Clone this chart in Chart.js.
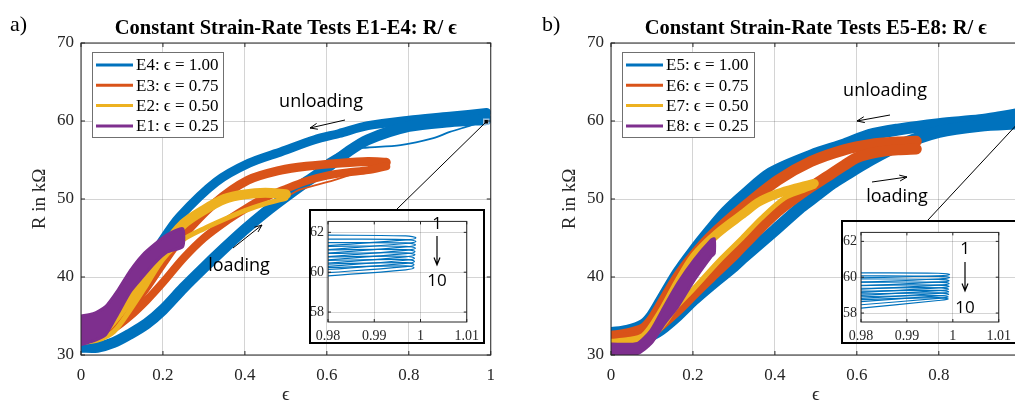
<!DOCTYPE html>
<html>
<head>
<meta charset="utf-8">
<title>Constant strain-rate tests</title>
<script src="https://cdn.jsdelivr.net/npm/chart.js@4.4.1/dist/chart.umd.min.js"></script>
<style>
  html, body { margin: 0; padding: 0; background: #fff; }
  body { position: relative; width: 1015px; height: 405px; overflow: hidden; }
  canvas { position: absolute; }
</style>
</head>
<body>
<canvas id="chartA" width="505" height="405" style="left:0;top:0"></canvas>
<canvas id="chartB" width="530" height="405" style="left:505px;top:0"></canvas>
<canvas id="zoomA" width="176" height="135" style="left:309px;top:209px"></canvas>
<canvas id="zoomB" width="176" height="124" style="left:841px;top:220px"></canvas>
<script>
// axis ticks
const strainTicks = [0, 0.2, 0.4, 0.6, 0.8, 1];
const strainLabels = ['0', '0.2', '0.4', '0.6', '0.8', '1'];
const resTicks = [30, 40, 50, 60, 70];
const zoomStrainTicks = [0.98, 0.99, 1, 1.01];
const zoomStrainLabels = ['0.98', '0.99', '1', '1.01'];
const zoomResTicks = [58, 60, 62];

// legend entries
const namesA = ['E4: ϵ = 1.00', 'E3: ϵ = 0.75', 'E2: ϵ = 0.50', 'E1: ϵ = 0.25'];
const namesB = ['E5: ϵ = 1.00', 'E6: ϵ = 0.75', 'E7: ϵ = 0.50', 'E8: ϵ = 0.25'];
const colors = ['#0072BD', '#D95319', '#EDB120', '#7E2F8E'];

// ---- tests E1-E4 (strain, resistance in kOhm) ----
const e4LoadEps = [0, 0.04, 0.08, 0.12, 0.16, 0.2, 0.25, 0.3, 0.35, 0.4, 0.45, 0.5, 0.55, 0.6, 0.65, 0.7, 0.8, 0.9, 0.99];
const e4LoadR = [31.0, 31.0, 31.6, 32.7, 34.0, 35.8, 38.6, 41.2, 43.7, 46.1, 48.3, 50.3, 52.2, 54.0, 56.0, 57.6, 59.3, 59.9, 60.2];
const e4UnloadEps = [0.99, 0.9, 0.8, 0.7, 0.63, 0.57, 0.49, 0.41, 0.33, 0.24, 0.2, 0.15, 0.1, 0.05, 0];
const e4UnloadR = [61.1, 60.6, 60.1, 59.4, 58.4, 57.6, 56.1, 54.6, 52.2, 47.7, 44.8, 40.5, 36.5, 33.3, 32.0];
const e4FirstEps = [0.6, 0.65, 0.7, 0.78, 0.86, 0.9, 0.95, 0.99];
const e4FirstR = [55.0, 56.4, 56.6, 56.9, 57.8, 58.6, 59.4, 60.1];

const e3LoadEps = [0, 0.04, 0.08, 0.12, 0.16, 0.2, 0.25, 0.3, 0.35, 0.4, 0.45, 0.5, 0.55, 0.6, 0.65, 0.7, 0.745];
const e3LoadR = [32.3, 32.6, 33.4, 35.0, 37.0, 39.3, 42.4, 45.0, 47.0, 48.7, 50.2, 51.3, 52.3, 53.0, 53.4, 53.7, 54.2];
const e3UnloadEps = [0.745, 0.7, 0.634, 0.55, 0.488, 0.407, 0.325, 0.244, 0.2, 0.15, 0.1, 0.05, 0];
const e3UnloadR = [54.7, 54.8, 54.6, 54.2, 53.7, 52.4, 49.4, 45.0, 41.8, 38.0, 35.0, 33.2, 32.8];
const e3FirstEps = [0.5, 0.534, 0.616, 0.689, 0.73];
const e3FirstR = [50.2, 51.2, 52.4, 53.7, 54.5];

const e2LoadEps = [0, 0.04, 0.08, 0.12, 0.16, 0.2, 0.25, 0.3, 0.35, 0.4, 0.45, 0.5];
const e2LoadR = [31.6, 31.9, 33.0, 35.8, 39.0, 42.3, 44.8, 46.2, 47.4, 48.5, 49.4, 50.1];
const e2UnloadEps = [0.5, 0.45, 0.4, 0.35, 0.3, 0.25, 0.2, 0.16, 0.12, 0.08, 0.04, 0];
const e2UnloadR = [50.6, 50.8, 50.6, 50.0, 48.6, 46.8, 43.6, 40.3, 37.3, 34.6, 32.6, 32.2];

const e1Eps = [0, 0.03, 0.06, 0.09, 0.12, 0.15, 0.18, 0.21, 0.248];
const e1UpperR = [35.0, 35.3, 36.2, 38.3, 40.8, 42.8, 44.2, 45.4, 46.2];
const e1LowerR = [31.3, 31.8, 32.6, 35.3, 38.1, 40.0, 41.8, 43.2, 43.9];

// ---- tests E5-E8 ----
const e5LoadEps = [0, 0.04, 0.08, 0.1, 0.12, 0.163, 0.2, 0.244, 0.3, 0.325, 0.4, 0.46, 0.49, 0.54, 0.57, 0.63, 0.7, 0.8, 0.9, 0.995];
const e5LoadR = [31.9, 32.0, 32.2, 32.6, 33.2, 35.1, 37.0, 39.0, 41.4, 42.6, 46.0, 48.8, 50.0, 52.0, 53.0, 54.9, 56.8, 58.6, 59.4, 59.7];
const e5UnloadEps = [0.995, 0.95, 0.9, 0.8, 0.7, 0.63, 0.57, 0.49, 0.39, 0.325, 0.28, 0.244, 0.2, 0.163, 0.122, 0.1, 0.08, 0.04, 0];
const e5UnloadR = [60.9, 60.5, 60.1, 59.6, 58.9, 58.2, 57.0, 55.6, 53.3, 50.5, 48.3, 46.1, 43.2, 40.5, 36.9, 35.0, 33.9, 33.1, 32.8];

const e6LoadEps = [0, 0.04, 0.08, 0.1, 0.12, 0.163, 0.203, 0.244, 0.3, 0.325, 0.407, 0.47, 0.528, 0.569, 0.6, 0.65, 0.7, 0.745];
const e6LoadR = [32.0, 32.2, 32.6, 33.0, 33.8, 35.8, 37.9, 40.0, 42.8, 44.2, 48.4, 50.9, 52.9, 54.3, 55.3, 56.0, 56.3, 56.4];
const e6UnloadEps = [0.745, 0.7, 0.634, 0.569, 0.488, 0.407, 0.325, 0.244, 0.2, 0.163, 0.12, 0.1, 0.08, 0.04, 0];
const e6UnloadR = [57.4, 57.3, 57.0, 56.3, 54.8, 52.4, 49.0, 45.2, 42.6, 40.0, 36.2, 34.5, 33.4, 32.7, 32.4];

const e7LoadEps = [0, 0.06, 0.1, 0.13, 0.154, 0.2, 0.268, 0.32, 0.366, 0.423, 0.47, 0.496];
const e7LoadR = [31.3, 31.5, 32.3, 34.0, 35.8, 38.4, 42.3, 45.0, 47.5, 50.1, 51.1, 51.6];
const e7UnloadEps = [0.496, 0.45, 0.407, 0.36, 0.325, 0.26, 0.203, 0.163, 0.122, 0.081, 0.04, 0];
const e7UnloadR = [52.0, 51.4, 50.7, 49.6, 48.2, 45.6, 42.6, 39.2, 35.3, 32.3, 31.7, 31.5];

const e8Eps = [0, 0.065, 0.098, 0.13, 0.163, 0.203, 0.244, 0.252];
const e8UpperR = [31.4, 31.5, 33.2, 36.2, 39.2, 42.2, 44.7, 44.9];
const e8LowerR = [30.2, 30.2, 31.5, 34.0, 36.2, 39.6, 42.6, 43.0];

// zoomed end of the E4 / E5 cycles 1..10
const zoomEdgeEps = [0.978, 0.9968];
const zoomA = {
  loadStart: [61.30, 61.10, 60.92, 60.75, 60.58, 60.42, 60.26, 60.10, 59.94, 59.78],
  loadEnd: [61.62, 61.44, 61.27, 61.10, 60.93, 60.77, 60.60, 60.44, 60.28, 60.12],
  tipEps: [0.9990, 0.9990, 0.9989, 0.9989, 0.9988, 0.9988, 0.9987, 0.9987, 0.9986, 0.9986],
  tipR: [61.72, 61.54, 61.37, 61.20, 61.03, 60.87, 60.70, 60.54, 60.38, 60.22],
  unloadStart: [61.82, 61.64, 61.47, 61.30, 61.13, 60.97, 60.80, 60.64, 60.48, 60.32],
  unloadEnd: [61.86, 61.66, 61.48, 61.30, 61.12, 60.94, 60.76, 60.58, 60.40, 60.22]
};
const zoomB = {
  loadStart: [59.95, 59.70, 59.50, 59.30, 59.12, 58.95, 58.78, 58.60, 58.42, 58.22],
  loadEnd: [60.08, 59.90, 59.72, 59.56, 59.40, 59.25, 59.10, 58.96, 58.82, 58.70],
  tipEps: [0.9993, 0.9993, 0.9992, 0.9992, 0.9992, 0.9991, 0.9991, 0.9991, 0.9990, 0.9990],
  tipR: [60.15, 59.98, 59.80, 59.64, 59.48, 59.33, 59.18, 59.04, 58.90, 58.78],
  unloadStart: [60.22, 60.05, 59.88, 59.72, 59.56, 59.41, 59.26, 59.12, 58.98, 58.86],
  unloadEnd: [60.24, 60.08, 59.90, 59.72, 59.55, 59.38, 59.22, 59.06, 58.90, 58.74]
};

// zoom markers on the main axes
const markerA = [0.989, 59.9];
const markerB = [0.995, 59.8];

const serif = "'Liberation Serif', 'Times New Roman', serif";
const sans = "'Open Sans', 'Liberation Sans', sans-serif";
const gridColor = 'rgba(38,38,38,0.2)';
const inkColor = '#262626';

Chart.defaults.font.family = serif;

const pts = (xs, ys) => xs.map((x, i) => ({ x, y: ys[i] }));

function band(eps, r, color, width, order) {
  return {
    data: pts(eps, r), borderColor: color, borderWidth: width, order,
    fill: false, pointRadius: 0, tension: 0.3,
    borderCapStyle: 'round', borderJoinStyle: 'round'
  };
}

// closed outline: out along the upper edge, back along the lower edge
function patch(eps, upper, lower, color, order) {
  const outline = pts(eps, upper).concat(pts(eps, lower).reverse());
  return {
    data: outline, borderColor: color, backgroundColor: color, borderWidth: 3, order,
    fill: 'shape', pointRadius: 0, tension: 0.2, borderJoinStyle: 'round'
  };
}

function marker(p) {
  return {
    data: [{ x: p[0], y: p[1] }], showLine: false, order: 0,
    pointStyle: 'rect', pointRadius: 3.5, pointBackgroundColor: '#000',
    pointBorderColor: 'rgba(170,205,235,0.9)', pointBorderWidth: 1.5
  };
}

function arrow(ctx, from, to, head) {
  const ang = Math.atan2(to[1] - from[1], to[0] - from[0]);
  ctx.beginPath();
  ctx.moveTo(from[0], from[1]);
  ctx.lineTo(to[0], to[1]);
  ctx.moveTo(to[0] - head * Math.cos(ang - 0.38), to[1] - head * Math.sin(ang - 0.38));
  ctx.lineTo(to[0], to[1]);
  ctx.lineTo(to[0] - head * Math.cos(ang + 0.38), to[1] - head * Math.sin(ang + 0.38));
  ctx.stroke();
}

function mainDecor(o) {
  return {
    id: 'mainDecor',
    afterDraw(chart) {
      const { ctx, chartArea: a, scales: { x, y } } = chart;
      ctx.save();
      // axes box with inward tick marks
      ctx.strokeStyle = inkColor;
      ctx.lineWidth = 1;
      ctx.strokeRect(a.left, a.top, a.right - a.left, a.bottom - a.top);
      ctx.beginPath();
      strainTicks.forEach(v => {
        const px = x.getPixelForValue(v);
        ctx.moveTo(px, a.bottom); ctx.lineTo(px, a.bottom - 4);
        ctx.moveTo(px, a.top); ctx.lineTo(px, a.top + 4);
      });
      resTicks.forEach(v => {
        const py = y.getPixelForValue(v);
        ctx.moveTo(a.left, py); ctx.lineTo(a.left + 4, py);
        ctx.moveTo(a.right, py); ctx.lineTo(a.right - 4, py);
      });
      ctx.stroke();

      // title and panel letter
      ctx.fillStyle = '#000';
      ctx.textAlign = 'center';
      ctx.textBaseline = 'alphabetic';
      ctx.font = 'bold 20.5px ' + serif;
      ctx.fillText(o.title, (a.left + a.right) / 2, 34);
      ctx.textAlign = 'left';
      ctx.font = '22px ' + serif;
      ctx.fillText(o.panel, o.panelX, 31);

      // line from the zoom marker to the inset
      ctx.strokeStyle = '#000';
      ctx.beginPath();
      ctx.moveTo(x.getPixelForValue(o.marker[0]), y.getPixelForValue(o.marker[1]));
      ctx.lineTo(o.insetAt[0], o.insetAt[1]);
      ctx.stroke();

      // loading / unloading notes
      ctx.font = '18px ' + sans;
      ctx.textAlign = 'center';
      ctx.textBaseline = 'middle';
      o.notes.forEach(n => {
        ctx.fillText(n.text, n.at[0], n.at[1]);
        arrow(ctx, n.from, n.to, 8);
      });

      // legend
      const lg = o.legend;
      ctx.fillStyle = '#fff';
      ctx.fillRect(lg.x, lg.y, lg.w, lg.h);
      ctx.strokeStyle = '#707070';
      ctx.strokeRect(lg.x + 0.5, lg.y + 0.5, lg.w, lg.h);
      ctx.font = '17px ' + serif;
      ctx.textAlign = 'left';
      o.names.forEach((name, i) => {
        const ly = lg.y + 13 + i * 20.3;
        ctx.strokeStyle = colors[i];
        ctx.lineWidth = 3;
        ctx.beginPath();
        ctx.moveTo(lg.x + 4, ly);
        ctx.lineTo(lg.x + 41, ly);
        ctx.stroke();
        ctx.fillStyle = '#000';
        ctx.fillText(name, lg.x + 44, ly + 1);
      });
      ctx.restore();
    }
  };
}

function mainChart(id, datasets, padLeft, decor) {
  return new Chart(document.getElementById(id), {
    type: 'line',
    data: { datasets },
    options: {
      responsive: false, animation: false, events: [], devicePixelRatio: 1,
      layout: { padding: { top: 43, right: 14, bottom: 0, left: padLeft } },
      plugins: { legend: { display: false }, tooltip: { enabled: false }, title: { display: false } },
      scales: {
        x: {
          type: 'linear', min: 0, max: 1,
          afterBuildTicks: s => { s.ticks = strainTicks.map(v => ({ value: v })); },
          afterFit: s => { s.height = 50; },
          ticks: { callback: (v, i) => strainLabels[i], font: { size: 17 }, color: inkColor, padding: 10, maxRotation: 0, autoSkip: false },
          grid: { color: gridColor, drawTicks: false },
          border: { display: false },
          title: { display: true, text: 'ϵ', color: inkColor, font: { size: 19, lineHeight: 1 }, padding: { top: 0, bottom: 0 } }
        },
        y: {
          min: 30, max: 70,
          afterBuildTicks: s => { s.ticks = resTicks.map(v => ({ value: v })); },
          afterFit: s => { s.width = 81; },
          ticks: { font: { size: 17 }, color: inkColor, padding: 7 },
          grid: { color: gridColor, drawTicks: false },
          border: { display: false },
          title: { display: true, text: 'R in kΩ', color: inkColor, font: { size: 19, lineHeight: 1.2 }, padding: { top: 29, bottom: 0 } }
        }
      }
    },
    plugins: [decor]
  });
}

function zoomDecor(o) {
  return {
    id: 'zoomDecor',
    beforeDraw(chart) {
      const { ctx, chartArea: a } = chart;
      ctx.save();
      ctx.fillStyle = '#fff';
      ctx.fillRect(a.left, a.top, a.right - a.left, a.bottom - a.top);
      ctx.restore();
    },
    afterDraw(chart) {
      const { ctx, chartArea: a, scales: { x, y } } = chart;
      ctx.save();
      ctx.strokeStyle = inkColor;
      ctx.lineWidth = 1;
      ctx.strokeRect(a.left, a.top, a.right - a.left, a.bottom - a.top);
      ctx.beginPath();
      zoomStrainTicks.forEach(v => {
        const px = x.getPixelForValue(v);
        ctx.moveTo(px, a.bottom); ctx.lineTo(px, a.bottom - 3);
        ctx.moveTo(px, a.top); ctx.lineTo(px, a.top + 3);
      });
      zoomResTicks.forEach(v => {
        const py = y.getPixelForValue(v);
        ctx.moveTo(a.left, py); ctx.lineTo(a.left + 3, py);
        ctx.moveTo(a.right, py); ctx.lineTo(a.right - 3, py);
      });
      ctx.stroke();
      // outer frame
      ctx.strokeStyle = '#000';
      ctx.lineWidth = 2;
      ctx.strokeRect(1, 1, chart.width - 2, chart.height - 2);
      // cycle counter 1 -> 10
      ctx.lineWidth = 1.2;
      ctx.fillStyle = '#000';
      ctx.font = '17px ' + sans;
      ctx.textAlign = 'center';
      ctx.textBaseline = 'middle';
      ctx.fillText('1', o.cx, o.firstY);
      arrow(ctx, [o.cx, o.arrowFrom], [o.cx, o.arrowTo], 8);
      ctx.fillText('10', o.cx, o.lastY);
      ctx.restore();
    }
  };
}

function zoomChart(id, z, yMax, pad, decor) {
  const datasets = z.tipR.map((_, i) => ({
    data: pts(
      [zoomEdgeEps[0], zoomEdgeEps[1], z.tipEps[i], zoomEdgeEps[1], zoomEdgeEps[0]],
      [z.loadStart[i], z.loadEnd[i], z.tipR[i], z.unloadStart[i], z.unloadEnd[i]]
    ),
    borderColor: colors[0], borderWidth: 1.2, pointRadius: 0, tension: 0.4, fill: false, clip: 0
  }));
  return new Chart(document.getElementById(id), {
    type: 'line',
    data: { datasets },
    options: {
      responsive: false, animation: false, events: [], devicePixelRatio: 1,
      layout: { padding: { top: pad.top, right: pad.right, bottom: 0, left: 0 } },
      plugins: { legend: { display: false }, tooltip: { enabled: false } },
      scales: {
        x: {
          type: 'linear', min: 0.98, max: 1.01,
          afterBuildTicks: s => { s.ticks = zoomStrainTicks.map(v => ({ value: v })); },
          afterFit: s => { s.height = pad.xh; },
          ticks: { callback: (v, i) => zoomStrainLabels[i], font: { size: 14 }, color: inkColor, padding: 6, maxRotation: 0, autoSkip: false },
          grid: { color: gridColor, drawTicks: false },
          border: { display: false }
        },
        y: {
          min: 57.5, max: yMax,
          afterBuildTicks: s => { s.ticks = zoomResTicks.map(v => ({ value: v })); },
          afterFit: s => { s.width = pad.yw; },
          ticks: { font: { size: 14 }, color: inkColor, padding: 4 },
          grid: { color: gridColor, drawTicks: false },
          border: { display: false }
        }
      }
    },
    plugins: [decor]
  });
}

// panel a)
mainChart('chartA', [
  band(e4LoadEps, e4LoadR, colors[0], 11, 4),
  band(e4UnloadEps, e4UnloadR, colors[0], 9, 4),
  band(e4FirstEps, e4FirstR, colors[0], 1.8, 4),
  band(e3LoadEps, e3LoadR, colors[1], 8, 3),
  band(e3UnloadEps, e3UnloadR, colors[1], 9, 3),
  band(e3FirstEps, e3FirstR, colors[1], 1.8, 3),
  band(e2LoadEps, e2LoadR, colors[2], 5, 2),
  band(e2UnloadEps, e2UnloadR, colors[2], 10, 2),
  patch(e1Eps, e1UpperR, e1LowerR, colors[3], 1),
  marker(markerA)
], 0, mainDecor({
  title: 'Constant Strain-Rate Tests E1-E4: R/ ϵ', panel: 'a)', panelX: 10,
  marker: markerA, insetAt: [397, 209], names: namesA,
  legend: { x: 92, y: 52, w: 131, h: 85 },
  notes: [
    { text: 'unloading', at: [321, 102], from: [345, 120], to: [310, 128] },
    { text: 'loading', at: [239, 266], from: [233, 248], to: [262, 225] }
  ]
}));

// panel b)
mainChart('chartB', [
  band(e5LoadEps, e5LoadR, colors[0], 12, 4),
  band(e5UnloadEps, e5UnloadR, colors[0], 12, 4),
  band(e6LoadEps, e6LoadR, colors[1], 11, 3),
  band(e6UnloadEps, e6UnloadR, colors[1], 11, 3),
  band(e7LoadEps, e7LoadR, colors[2], 5, 2),
  band(e7UnloadEps, e7UnloadR, colors[2], 9, 2),
  patch(e8Eps, e8UpperR, e8LowerR, colors[3], 1),
  marker(markerB)
], 25, mainDecor({
  title: 'Constant Strain-Rate Tests E5-E8: R/ ϵ', panel: 'b)', panelX: 37,
  marker: markerB, insetAt: [423, 220], names: namesB,
  legend: { x: 117, y: 52, w: 132, h: 85 },
  notes: [
    { text: 'unloading', at: [380, 91], from: [385, 115], to: [352, 121] },
    { text: 'loading', at: [392, 197], from: [367, 182], to: [402, 177] }
  ]
}));

// insets: last millimetres of the E4 and E5 cycles
zoomChart('zoomA', zoomA, 62.55, { top: 12, right: 12, xh: 22, yw: 19 },
  zoomDecor({ cx: 128, firstY: 15, arrowFrom: 27, arrowTo: 56, lastY: 72 }));
zoomChart('zoomB', zoomB, 62.5, { top: 3, right: 13, xh: 22, yw: 20 },
  zoomDecor({ cx: 124, firstY: 29, arrowFrom: 42, arrowTo: 71, lastY: 88 }));
</script>
</body>
</html>
